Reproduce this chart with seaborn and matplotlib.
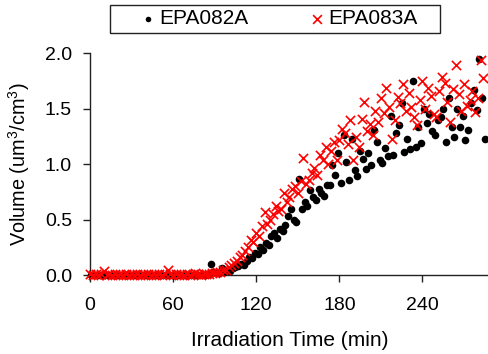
import matplotlib
matplotlib.use("Agg")
import matplotlib.pyplot as plt
from matplotlib.patches import Rectangle
import seaborn as sns
import pandas as pd

# ---- data ----
time_a = [1, 3, 5, 7, 9, 11, 13, 15, 17, 19, 21, 23, 25, 27, 29, 31, 33, 35, 37, 39,
          41, 43, 45, 47, 49, 51, 53, 55, 57, 59, 61, 63, 65, 67, 69, 71, 73, 75, 77, 79,
          81, 83, 85,
          87, 89, 91, 93, 95, 97, 99, 101, 103, 105,
          107, 109, 111, 113, 115, 117, 119, 121, 123, 125,
          127, 129, 131, 133, 135, 137, 139, 141, 143, 145,
          147, 149, 151, 153, 155, 157, 159, 161, 163, 165,
          167, 169, 171, 173, 175, 177, 179, 181, 183, 185,
          187, 189, 191, 193, 195, 197, 199, 201, 203, 205,
          207, 209, 211, 213, 215, 217, 219, 221, 223, 225,
          227, 229, 231, 233, 235, 237, 239, 241, 243, 245,
          247, 249, 251, 253, 255, 257, 259, 261, 263, 265,
          267, 269, 271, 273, 275, 277, 279, 281, 283, 285]
vol_a = [0.00, 0.00, 0.00, 0.00, 0.00, 0.00, 0.00, 0.00, 0.00, 0.00, 0.00, 0.00, 0.00,
         0.00, 0.00, 0.00, 0.00, 0.00, 0.00, 0.00, 0.00, 0.00, 0.00, 0.00, 0.00, 0.00,
         0.00, 0.00, 0.00, 0.00, 0.00, 0.00, 0.00, 0.00, 0.00, 0.00, 0.00, 0.00, 0.00,
         0.00, 0.00, 0.00, 0.01,
         0.10, 0.03, 0.02, 0.02, 0.06, 0.03, 0.04, 0.04, 0.06, 0.07,
         0.08, 0.10, 0.09, 0.13, 0.16, 0.15, 0.20, 0.19, 0.25, 0.23,
         0.29, 0.27, 0.35, 0.38, 0.33, 0.42, 0.40, 0.45, 0.53, 0.60,
         0.50, 0.48, 0.87, 0.60, 0.66, 0.62, 0.77, 0.70, 0.68, 0.78,
         0.74, 0.71, 0.81, 0.81, 0.99, 0.90, 1.10, 0.83, 1.26, 1.02,
         0.86, 1.23, 0.95, 0.89, 1.12, 1.05, 0.96, 1.10, 0.99, 1.31,
         1.20, 1.04, 1.01, 1.15, 1.07, 1.44, 1.08, 1.28, 1.35, 1.55,
         1.11, 1.23, 1.14, 1.75, 1.16, 1.34, 1.19, 1.50, 1.37, 1.45,
         1.30, 1.26, 1.40, 1.43, 1.50, 1.20, 1.60, 1.34, 1.25, 1.50,
         1.34, 1.44, 1.22, 1.31, 1.55, 1.67, 1.49, 1.95, 1.60, 1.23]

time_b = [0, 2, 4, 6, 8, 10, 12, 14, 16, 18, 20, 22, 24, 26, 28, 30, 32, 34, 36, 38,
          40, 42, 44, 46, 48, 50, 52, 54, 56, 58, 60, 62, 64, 66, 68, 70, 72, 74, 76, 78,
          80, 82, 84,
          86, 88, 90, 92, 94, 96, 98, 100, 102, 104,
          106, 108, 110, 112, 114, 116, 118, 120, 122, 124,
          126, 128, 130, 132, 134, 136, 138, 140, 142, 144,
          146, 148, 150, 152, 154, 156, 158, 160, 162, 164,
          166, 168, 170, 172, 174, 176, 178, 180, 182, 184,
          186, 188, 190, 192, 194, 196, 198, 200, 202, 204,
          206, 208, 210, 212, 214, 216, 218, 220, 222, 224,
          226, 228, 230, 232, 234, 236, 238, 240, 242, 244,
          246, 248, 250, 252, 254, 256, 258, 260, 262, 264,
          266, 268, 270, 272, 274, 276, 278, 280, 282, 284]
vol_b = [0.01, 0.00, 0.01, 0.00, 0.01, 0.04, 0.00, 0.01, 0.00, 0.01, 0.00, 0.01, 0.00,
         0.01, 0.00, 0.01, 0.00, 0.01, 0.00, 0.01, 0.00, 0.01, 0.00, 0.01, 0.00, 0.01,
         0.00, 0.01, 0.05, 0.01, 0.00, 0.01, 0.00, 0.01, 0.00, 0.01, 0.00, 0.01, 0.02,
         0.01, 0.00, 0.01, 0.01,
         0.01, 0.02, 0.02, 0.03, 0.03, 0.05, 0.05, 0.07, 0.09, 0.11,
         0.13, 0.16, 0.18, 0.22, 0.25, 0.32, 0.30, 0.38, 0.35, 0.44,
         0.57, 0.46, 0.50, 0.55, 0.62, 0.58, 0.60, 0.74, 0.66, 0.70,
         0.78, 0.80, 0.74, 0.85, 1.06, 0.82, 0.86, 0.92, 0.97, 0.90,
         1.08, 1.04, 1.16, 1.00, 1.12, 1.20, 1.04, 1.22, 1.32, 1.28,
         1.18, 1.40, 1.04, 1.25, 1.16, 1.41, 1.56, 1.30, 1.36, 1.26,
         1.48, 1.38, 1.60, 1.46, 1.69, 1.52, 1.23, 1.40, 1.61, 1.55,
         1.72, 1.48, 1.64, 1.52, 1.43, 1.35, 1.58, 1.75, 1.50, 1.69,
         1.62, 1.45, 1.43, 1.66, 1.79, 1.73, 1.56, 1.38, 1.68, 1.90,
         1.63, 1.48, 1.72, 1.53, 1.58, 1.66, 1.47, 1.60, 1.94, 1.78]

labels = ["EPA082A", "EPA083A"]
x_ticks = [0, 60, 120, 180, 240]
y_ticks = [0.0, 0.5, 1.0, 1.5, 2.0]

df_a = pd.DataFrame({"time": time_a, "volume": vol_a})
df_b = pd.DataFrame({"time": time_b, "volume": vol_b})

sns.set_style("ticks")
plt.rcParams["font.family"] = ["Liberation Sans", "DejaVu Sans"]
plt.rcParams["mathtext.fontset"] = "custom"
plt.rcParams["mathtext.rm"] = "Liberation Sans"
plt.rcParams["mathtext.it"] = "Liberation Sans"
plt.rcParams["text.color"] = "black"
plt.rcParams["axes.labelcolor"] = "black"

fig = plt.figure(figsize=(4.89, 3.54), dpi=100)
ax = fig.add_axes([0.184, 0.223, 0.816, 0.626])

sns.scatterplot(data=df_a, x="time", y="volume", ax=ax, color="black", marker="o",
                s=30, linewidth=0, label=labels[0], clip_on=False, zorder=3)
sns.scatterplot(data=df_b, x="time", y="volume", ax=ax, color="red", marker="x",
                s=44, linewidth=1.2, label=labels[1], clip_on=False, zorder=4)

ax.set_xlim(0, 288)
ax.set_ylim(0, 2.0)
ax.set_xticks(x_ticks)
ax.set_yticks(y_ticks)
ax.set_yticklabels([f"{v:.1f}" for v in y_ticks])
ax.tick_params(direction="out", length=5, width=1, labelsize=14, colors="#222222",
               labelcolor="black", pad=8)
ax.tick_params(axis="x", pad=11)
for side in ["top", "right"]:
    ax.spines[side].set_visible(False)
for side in ["left", "bottom"]:
    ax.spines[side].set_color("#222222")
    ax.spines[side].set_linewidth(1)
ax.set_xlabel("Irradiation Time (min)", fontsize=15, labelpad=12)
ax.set_ylabel("Volume (um$^3$/cm$^3$)", fontsize=14.3, labelpad=9)

ax.get_legend().remove()
h, l = ax.get_legend_handles_labels()
leg = fig.legend(h, l, ncol=2, loc="center left", bbox_to_anchor=(137.6 / 489, 1 - 19 / 354),
                 frameon=False, fontsize=15, columnspacing=2.77,
                 handletextpad=0.05, borderpad=0.0, borderaxespad=0.0, handlelength=1.0)
leg.legend_handles[0].set_sizes([16])
leg.legend_handles[1].set_sizes([40])
fig.add_artist(Rectangle((110 / 489, 1 - 33 / 354), 330 / 489, 28 / 354,
                         transform=fig.transFigure, fill=False,
                         edgecolor="#222222", linewidth=1))

fig.savefig("out.png", dpi=100)
